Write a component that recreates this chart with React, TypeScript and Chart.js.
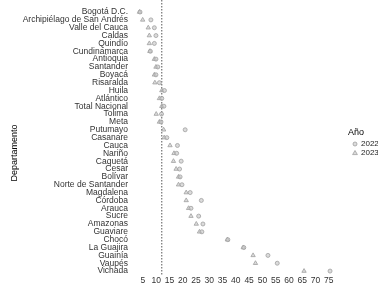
import React, { useEffect, useRef } from 'react';
import { Chart, registerables } from 'chart.js';

Chart.register(...registerables);

const departamentos = [
  'Bogotá D.C.',
  'Archipiélago de San Andrés',
  'Valle del Cauca',
  'Caldas',
  'Quindío',
  'Cundinamarca',
  'Antioquia',
  'Santander',
  'Boyacá',
  'Risaralda',
  'Huila',
  'Atlántico',
  'Total Nacional',
  'Tolima',
  'Meta',
  'Putumayo',
  'Casanare',
  'Cauca',
  'Nariño',
  'Caquetá',
  'Cesar',
  'Bolívar',
  'Norte de Santander',
  'Magdalena',
  'Córdoba',
  'Arauca',
  'Sucre',
  'Amazonas',
  'Guaviare',
  'Chocó',
  'La Guajira',
  'Guainía',
  'Vaupés',
  'Vichada',
];

const valores2022 = [
  3.9, 8.0, 9.3, 9.9, 9.3, 7.8, 9.9, 10.6, 9.9, 11.2, 13.1, 12.1, 12.9, 12.0, 11.8, 20.9, 14.0,
  18.0, 17.7, 19.4, 18.8, 19.0, 19.7, 22.8, 27.0, 23.1, 26.0, 27.6, 27.2, 37.0, 43.0, 52.1, 55.6,
  75.5,
];

const valores2023 = [
  3.7, 4.9, 7.0, 7.4, 7.4, 7.6, 9.3, 9.9, 9.3, 9.5, 12.1, 11.2, 12.1, 10.0, 11.2, 12.8, 13.0, 15.2,
  16.7, 16.5, 17.5, 18.4, 18.4, 21.3, 21.3, 22.2, 23.1, 25.1, 26.3, 36.8, 42.8, 46.5, 47.4, 65.7,
];

const totalNacional2023 = 12.1;
const xTicks = [5, 10, 15, 20, 25, 30, 35, 40, 45, 50, 55, 60, 65, 70, 75];
const seriesNames = ['2022', '2023'];
const legendTitle = 'Año';
const yTitle = 'Departamento';

const FONT = "'Liberation Sans', Arial, sans-serif";
const POINT_FILL = 'rgba(200,200,200,0.65)';
const POINT_BORDER = '#a0a0a0';

export default function App() {
  const ref = useRef<HTMLCanvasElement>(null);

  useEffect(() => {
    document.body.style.margin = '0';
    document.body.style.overflow = 'hidden';
    const canvas = ref.current!;

    const overlay = {
      id: 'overlay',
      beforeDatasetsDraw(chart: any) {
        const c = chart.ctx;
        const x = chart.scales.x.getPixelForValue(totalNacional2023);
        c.save();
        c.strokeStyle = '#555';
        c.lineWidth = 1;
        c.setLineDash([1.5, 1.5]);
        c.beginPath();
        c.moveTo(x, 0);
        c.lineTo(x, chart.chartArea.bottom);
        c.stroke();
        c.restore();
      },
      afterDraw(chart: any) {
        const c = chart.ctx;
        c.save();
        c.fillStyle = '#000';
        c.font = `9px ${FONT}`;
        c.textAlign = 'center';
        c.textBaseline = 'middle';
        c.translate(15, 153);
        c.rotate(-Math.PI / 2);
        c.fillText(yTitle, 0, 0);
        c.restore();

        c.save();
        c.fillStyle = '#000';
        c.font = `9px ${FONT}`;
        c.textAlign = 'left';
        c.textBaseline = 'middle';
        c.fillText(legendTitle, 348, 133);
        c.font = `8px ${FONT}`;
        c.fillStyle = '#222';
        c.fillText(seriesNames[0], 361, 144);
        c.fillText(seriesNames[1], 361, 153);
        c.fillStyle = POINT_FILL;
        c.strokeStyle = POINT_BORDER;
        c.lineWidth = 0.8;
        c.beginPath();
        c.arc(355, 144, 2, 0, Math.PI * 2);
        c.fill();
        c.stroke();
        c.beginPath();
        c.moveTo(355, 150.5);
        c.lineTo(357.4, 154.6);
        c.lineTo(352.6, 154.6);
        c.closePath();
        c.fill();
        c.stroke();
        c.restore();
      },
    };

    const chart = new Chart(canvas, {
      type: 'scatter',
      data: {
        labels: departamentos,
        datasets: [
          {
            label: seriesNames[0],
            data: departamentos.map((d, i) => ({ x: valores2022[i], y: d })) as any,
            pointStyle: 'circle',
            pointRadius: 2,
            backgroundColor: POINT_FILL,
            borderColor: POINT_BORDER,
            borderWidth: 0.8,
          },
          {
            label: seriesNames[1],
            data: departamentos.map((d, i) => ({ x: valores2023[i], y: d })) as any,
            pointStyle: 'triangle',
            pointRadius: 2.5,
            backgroundColor: POINT_FILL,
            borderColor: POINT_BORDER,
            borderWidth: 0.8,
          },
        ],
      },
      options: {
        animation: false,
        responsive: false,
        layout: { padding: { left: 0, right: 36, top: 3, bottom: 0 } },
        plugins: { legend: { display: false }, tooltip: { enabled: false } },
        scales: {
          x: {
            type: 'linear',
            min: 0.5,
            max: 80,
            grid: { display: false, drawTicks: false },
            border: { display: false },
            afterBuildTicks: (s: any) => {
              s.ticks = xTicks.map((v) => ({ value: v }));
            },
            ticks: {
              font: { family: FONT, size: 8.5 },
              color: '#333',
              padding: 1,
              maxRotation: 0,
              autoSkip: false,
            },
            afterFit: (s: any) => {
              s.height = 14;
            },
          },
          y: {
            type: 'category',
            labels: departamentos,
            offset: true,
            grid: { display: false, drawTicks: false },
            border: { display: false },
            ticks: {
              autoSkip: false,
              font: { family: FONT, size: 8.5 },
              color: '#333',
              padding: 3,
            },
            afterFit: (s: any) => {
              s.width = 131;
            },
          },
        },
      },
      plugins: [overlay],
    } as any);

    return () => chart.destroy();
  }, []);

  return <canvas ref={ref} width={378} height={289} style={{ display: 'block' }} />;
}
